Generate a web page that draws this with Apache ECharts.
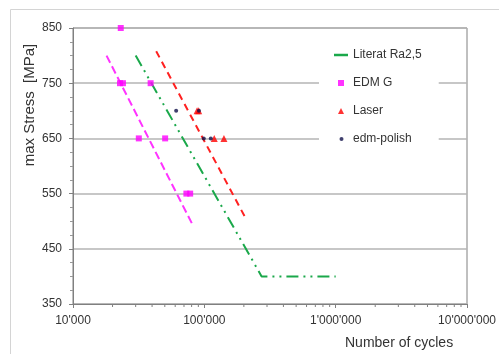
<!DOCTYPE html>
<html><head><meta charset="utf-8">
<script src="https://cdn.jsdelivr.net/npm/echarts@6/dist/echarts.min.js"></script>
<style>html,body{margin:0;padding:0;background:#fff}#c{width:499px;height:354px}</style>
</head><body><div id="c"></div>
<script>
// ---- data ----
const yTicks = [350, 450, 550, 650, 750, 850];
const xTicks = [10000, 100000, 1000000, 10000000];
const minorMult = [2, 3, 4, 5, 6, 7, 8, 9];
const literatLine = [[30000, 800], [273000, 400], [1000000, 400]];
const edmGLine = [[18000, 800], [82000, 492]];
const laserLine = [[43000, 808], [210000, 502]];
const edmG = [[23100, 850], [22800, 750], [24000, 750], [39000, 750], [31700, 650], [50300, 650], [73000, 550], [78000, 550]];
const laser = [[88000, 700], [90600, 700], [119000, 650], [141000, 650]];
const edmPolish = [[61000, 700], [91000, 700], [99000, 650], [112000, 650]];

const minorTicks = [];
xTicks.slice(0, -1).forEach(d => minorMult.forEach(m => minorTicks.push([d * m, yTicks[0]])));

const fmt = v => String(Math.round(v)).replace(/\B(?=(\d{3})+(?!\d))/g, "'");
const FONT = 'Liberation Sans, Arial, sans-serif';
const chart = echarts.init(document.getElementById('c'), null, {renderer: 'canvas'});
chart.setOption({
  animation: false,
  backgroundColor: '#fff',
  textStyle: {fontFamily: FONT},
  grid: {left: 73, top: 28, right: 30, bottom: 50, show: true, borderColor: '#808080', borderWidth: 1},
  graphic: [
    {type: 'rect', left: 8, top: 7, shape: {width: 520, height: 345}, style: {fill: 'none', stroke: '#d4d4d4', lineWidth: 1}, z: -1},
    {type: 'text', left: 345, top: 336, style: {text: 'Number of cycles', font: '14px ' + FONT, fill: '#333'}},
    {type: 'text', x: 30, y: 105, rotation: Math.PI / 2, style: {text: 'max Stress  [MPa]', font: '15px ' + FONT, fill: '#333', align: 'center', verticalAlign: 'middle'}}
  ],
  xAxis: {
    type: 'log', logBase: 10, min: xTicks[0], max: xTicks[xTicks.length - 1],
    axisLine: {lineStyle: {color: '#808080'}},
    axisTick: {show: true, length: 4, lineStyle: {color: '#808080'}},
    splitLine: {show: false},
    axisLabel: {formatter: fmt, fontSize: 12, color: '#333', margin: 11, fontFamily: FONT}
  },
  yAxis: {
    type: 'value', min: yTicks[0], max: yTicks[yTicks.length - 1], interval: 100,
    axisLine: {show: true, lineStyle: {color: '#808080'}},
    axisTick: {show: true, length: 4, lineStyle: {color: '#808080'}},
    minorTick: {show: true, splitNumber: 4, length: 3, lineStyle: {color: '#999'}},
    splitLine: {show: true, lineStyle: {color: '#b5b5b5', width: 1.5}},
    axisLabel: {fontSize: 12, color: '#333', margin: 11, fontFamily: FONT}
  },
  legend: {
    orient: 'vertical', left: 319, top: 41,
    padding: [7, 17, 10, 15], backgroundColor: '#fff',
    itemWidth: 14, itemHeight: 6, itemGap: 14,
    textStyle: {fontSize: 12, color: '#333', lineHeight: 14, fontFamily: FONT},
    data: [
      {name: 'Literat Ra2,5', icon: 'path://M0,0h14v2.5h-14z'},
      {name: 'EDM G', icon: 'path://M0,0M14,6M4,0h6v6h-6z'},
      {name: 'Laser', icon: 'path://M0,0M14,6M7,0L10,6L4,6z'},
      {name: 'edm-polish', icon: 'path://M0,0M14,6M5.5,3a2,2 0 1,0 4,0a2,2 0 1,0 -4,0z'}
    ]
  },
  series: [
    {type: 'custom', name: 'minor', silent: true, clip: false, data: minorTicks, encode: {x: 0, y: 1},
     renderItem: (params, api) => {
       const p = api.coord([api.value(0), api.value(1)]);
       return {type: 'line', shape: {x1: p[0], y1: p[1], x2: p[0], y2: p[1] + 3}, style: {stroke: '#808080', lineWidth: 1}};
     }},
    {type: 'line', name: 'EDM G line', data: edmGLine, symbol: 'none', silent: true,
     lineStyle: {color: '#ff33ff', width: 2, type: [8, 4]}},
    {type: 'line', name: 'Laser line', data: laserLine, symbol: 'none', silent: true,
     lineStyle: {color: '#ff2020', width: 2, type: [7, 5]}},
    {type: 'line', name: 'Literat Ra2,5', data: literatLine, symbol: 'none', color: '#1aa84a',
     lineStyle: {color: '#1aa84a', width: 2, type: [12, 5, 2, 5, 2, 5]}},
    {type: 'scatter', name: 'EDM G', data: edmG, symbol: 'rect', symbolSize: 6, color: '#ff00ff', z: 5},
    {type: 'scatter', name: 'Laser', data: laser, symbol: 'triangle', symbolSize: 7, color: '#ff0000', z: 5},
    {type: 'scatter', name: 'edm-polish', data: edmPolish, symbol: 'circle', symbolSize: 4, color: '#10104a', z: 6}
  ]
});
</script></body></html>
